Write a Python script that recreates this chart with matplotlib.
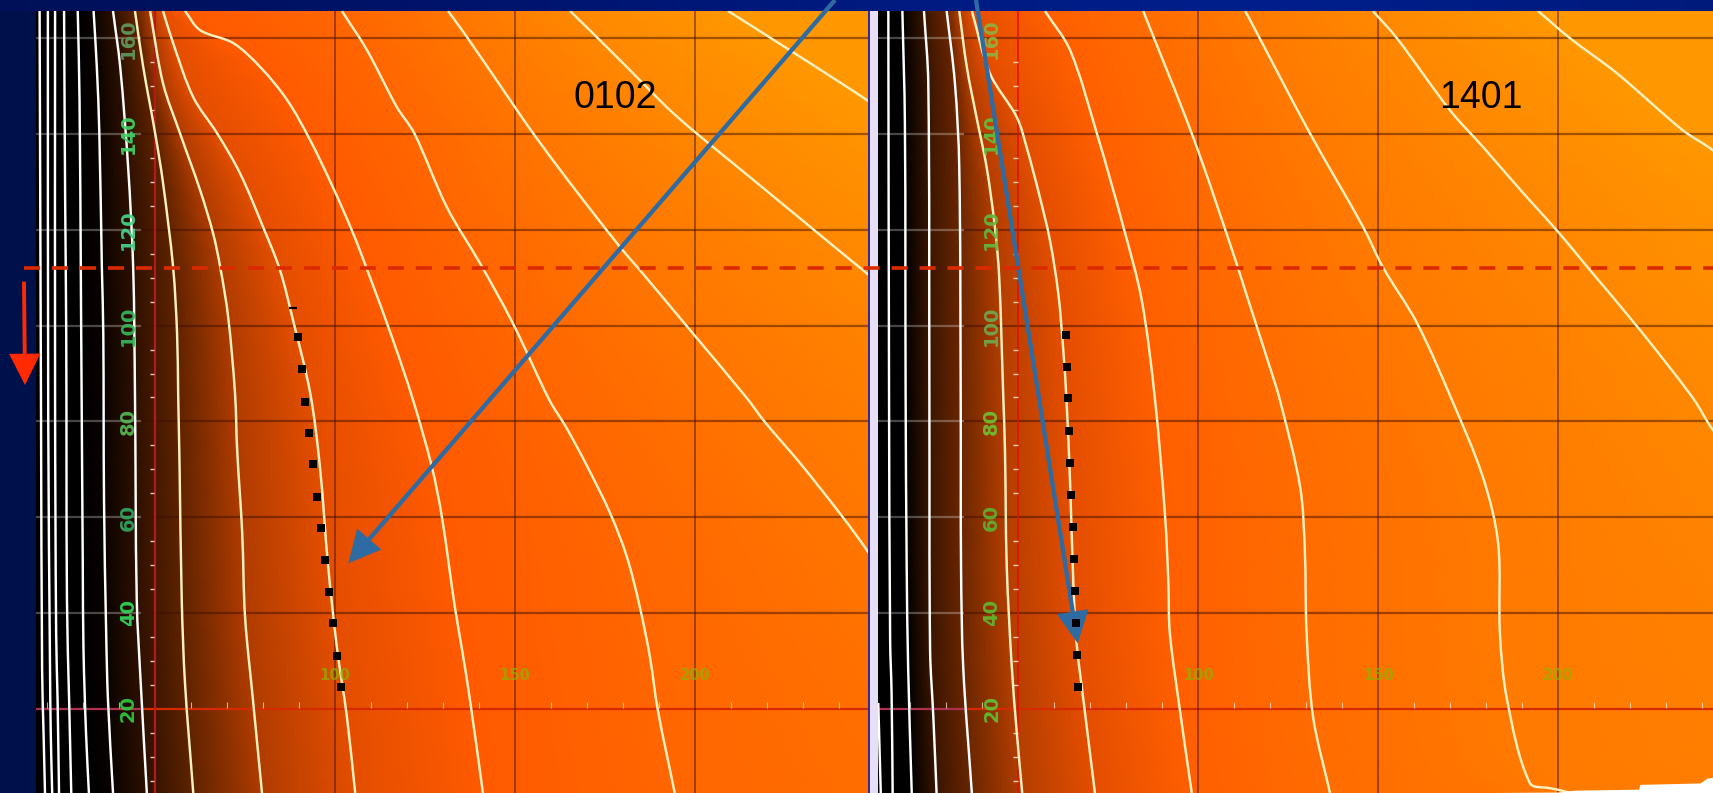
import numpy as np
import matplotlib
matplotlib.use("Agg")
import matplotlib.pyplot as plt
from matplotlib.colors import LinearSegmentedColormap
from matplotlib.patches import FancyArrowPatch, PathPatch
from matplotlib.path import Path

W, H = 1713, 793
TOP = 165.7
BOTTOM = 2.4

# Panel 0102: isolines as (x values, y values), left to right
p1_contours = [
    ([17.9, 18.3, 18.6, 19.0, 19.4], [165.7, 80.3, 28.1, 14.9, 2.4]),
    ([20.2, 20.3, 20.8, 21.0, 21.4], [165.7, 80.3, 28.1, 14.9, 2.4]),
    ([22.2, 22.2, 22.5, 22.9, 23.3], [165.7, 84.4, 35.8, 21.8, 2.4]),
    ([24.7, 25.0, 25.3, 25.5, 26.1, 26.7], [165.7, 126.2, 98.4, 42.7, 21.8, 2.4]),
    ([28.5, 29.0, 29.4, 29.9, 30.1, 30.8, 31.6], [165.7, 147.1, 105.3, 49.6, 32.3, 14.9, 2.4]),
    ([32.9, 33.8, 34.5, 35.2, 35.6, 35.8, 36.4, 36.9, 38.3],
     [165.7, 154.0, 140.2, 112.2, 98.4, 63.6, 35.8, 21.8, 2.4]),
    ([38.3, 40.3, 42.5, 43.9, 44.4, 44.9, 46.0, 47.7],
     [165.7, 154.0, 133.1, 112.2, 85.9, 42.7, 25.4, 2.4]),
    ([44.4, 46.7, 50.0, 52.2, 55.0, 56.1, 56.4, 56.8, 57.4, 58.3, 60.6],
     [165.7, 154.0, 140.2, 129.8, 112.2, 98.4, 85.9, 70.5, 42.7, 25.4, 2.4]),
    ([48.6, 52.2, 56.9, 62.5, 66.1, 68.1, 70.3, 72.2, 72.8, 74.2, 75.0, 77.2, 79.7],
     [165.7, 150.6, 140.2, 128.3, 119.3, 112.2, 101.8, 85.9, 74.0, 56.7, 39.1, 21.8, 2.4]),
    ([52.2, 55.0, 60.6, 67.2, 73.6, 80.0, 84.7, 88.3, 93.1, 95.8, 98.1, 100.6, 103.3, 105.6],
     [165.7, 159.0, 147.7, 140.2, 131.8, 120.6, 111.6, 101.2, 85.9, 70.5, 49.6, 32.3, 18.3, 2.4]),
    ([58.3, 62.5, 71.7, 79.2, 86.7, 93.1, 99.4, 105.0, 109.7, 116.1, 121.7, 126.9, 129.7, 133.3, 135.3, 137.5, 141.1],
     [165.7, 161.7, 159.0, 154.0, 147.1, 138.7, 128.9, 119.3, 110.1, 97.0, 84.4, 70.5, 60.0, 41.2, 32.3, 21.8, 2.4]),
    ([101.9, 108.9, 117.2, 122.0, 131.1, 140.3, 149.4, 159.6, 164.2, 169.6, 176.4, 181.1, 184.7, 187.5, 189.7, 194.4],
     [165.7, 157.5, 145.6, 140.2, 124.7, 113.0, 100.5, 84.4, 78.8, 71.3, 60.9, 51.7, 41.2, 30.8, 19.7, 2.4]),
    ([131.4, 136.9, 150.0, 155.0, 165.3, 179.2, 184.7, 199.4, 214.4, 219.4, 229.2, 241.1, 247.8, 256.9, 312.5],
     [165.7, 160.0, 145.6, 140.2, 129.8, 116.4, 111.6, 98.4, 84.9, 79.9, 71.3, 60.0, 53.1, 42.7, 2.4]),
    ([165.3, 173.6, 182.8, 192.2, 199.4, 210.6, 229.2, 247.8, 284.7, 395.8],
     [165.7, 159.6, 152.7, 145.6, 140.8, 133.9, 122.4, 110.9, 88.6, 2.4]),
    ([209.2, 226.4, 247.8, 284.7, 423.6], [165.7, 157.5, 147.1, 128.3, 2.4]),
]
p1_field_first = 4
p1_field_colors = ["#000000", "#000000", "#0a0300", "#2e1000", "#5f2300", "#b03c00", "#e44e00",
                   "#ff5a00", "#ff6600", "#ff7600", "#ff8800", "#ff9800", "#ffa000"]
p1_dots_x = [89.6, 90.8, 91.7, 92.9, 94.0, 95.1, 96.1, 97.2, 98.3, 99.4, 100.5, 101.6]
p1_dots_y = [97.6, 90.9, 84.1, 77.6, 71.0, 64.3, 57.7, 51.0, 44.4, 37.8, 31.1, 24.6]
p1_dash = (88.4, 103.6)

# Panel 1401
p2_contours = [
    ([11.1, 11.8], [21.2, 2.4]),
    ([13.9, 14.1, 14.4, 14.8, 15.1], [165.7, 84.4, 34.3, 23.3, 2.4]),
    ([17.8, 18.5, 18.7, 19.0, 19.4, 20.4], [165.7, 142.3, 85.9, 49.6, 28.7, 2.4]),
    ([23.8, 25.0, 25.3, 25.5, 26.4, 27.3], [165.7, 150.6, 85.9, 32.3, 18.3, 2.4]),
    ([30.1, 32.4, 33.6, 34.0, 34.1, 34.7, 37.1], [165.7, 150.6, 133.1, 85.9, 49.6, 28.7, 2.4]),
    ([33.6, 35.7, 38.4, 41.2, 43.5, 44.7, 45.8, 46.3, 46.8, 48.2, 49.6, 51.1],
     [165.7, 154.0, 143.5, 133.1, 120.6, 110.1, 85.9, 74.0, 49.6, 28.7, 14.9, 2.4]),
    ([37.1, 42.1, 49.6, 52.3, 56.0, 58.8, 61.1, 62.5, 63.4, 64.4, 65.3, 66.2, 68.1, 71.3],
     [165.7, 152.7, 143.5, 137.3, 126.8, 117.8, 106.8, 94.9, 84.4, 67.1, 46.2, 33.7, 21.8, 2.4]),
    ([57.4, 64.4, 71.8, 79.2, 84.3, 88.0, 90.8, 91.7, 92.1, 94.9, 98.2],
     [165.7, 157.5, 140.2, 120.6, 105.3, 84.4, 60.0, 46.2, 35.8, 19.7, 2.4]),
    ([84.7, 98.6, 109.7, 113.0, 119.9, 122.7, 128.3, 129.6, 130.1, 131.9, 136.6],
     [165.7, 139.3, 115.1, 107.4, 91.3, 84.4, 66.3, 53.1, 35.8, 18.3, 2.4]),
    ([113.0, 114.4, 131.0, 145.8, 151.3, 160.8, 170.5, 179.1, 183.3, 183.8, 185.8, 192.1, 197.7, 200.5, 203.3],
     [165.7, 163.8, 140.2, 120.6, 112.2, 100.5, 84.4, 68.3, 54.6, 35.8, 21.8, 4.5, 3.4, 3.0, 2.4]),
    ([148.5, 155.2, 169.9, 179.1, 191.3, 199.6, 208.8, 222.7, 237.4, 243.0, 267.1, 378.3],
     [165.7, 160.0, 145.0, 137.3, 126.8, 119.9, 111.6, 99.1, 84.9, 78.2, 55.2, 2.4]),
    ([194.4, 203.3, 216.3, 234.6, 243.0, 294.9, 406.0],
     [165.7, 160.0, 152.7, 140.8, 136.6, 105.3, 2.4]),
]
p2_field_first = 2
p2_field_colors = ["#000000", "#000000", "#3a1500", "#6a2600", "#b43e00", "#e44e00", "#ff5f00",
                   "#ff6c00", "#ff7a00", "#ff8800", "#ff9800", "#ffa000"]
p2_dots_x = [63.3, 63.5, 63.9, 64.2, 64.4, 64.7, 65.1, 65.4, 65.7, 66.0, 66.3, 66.6]
p2_dots_y = [98.0, 91.4, 84.8, 78.0, 71.3, 64.6, 57.9, 51.3, 44.6, 37.9, 31.2, 24.6]
p2_white_x = [181.6, 199.9, 204.6, 222.3, 222.7, 239.4, 241.3, 243.0]
p2_white_y = [2.5, 2.6, 3.0, 3.2, 4.2, 4.5, 5.5, 5.7]

y_ticks = [160, 140, 120, 100, 80, 60, 40, 20]
y_tick_colors = ["#5f9a5f", "#3fd468", "#45d488", "#35b85a", "#55b855", "#30a860", "#30d858", "#30c840"]
p2_y_tick_colors = ["#90b040", "#60c040", "#60b840", "#70a850", "#70c030", "#60b030", "#60b830", "#60c030"]
x_ticks = [100, 150, 200]
mesh_rows = [165.7, 160, 155, 150, 145, 140, 135, 130, 125, 120, 115, 110, 100, 90, 80, 70, 60, 50, 40, 30, 20, 10, 2.4]
band_colors = ["#001058", "#00136a", "#001a80", "#001f8c", "#001a7c"]

fig = plt.figure(figsize=(W / 100, H / 100), dpi=100, facecolor="#00104a")


def panel_axes(left_px, right_px, xlim, zorder, transparent=False):
    ax = fig.add_axes([left_px / W, 0, (right_px - left_px) / W, (H - 11) / H], zorder=zorder)
    ax.set_xlim(*xlim)
    ax.set_ylim(BOTTOM, TOP)
    ax.axis("off")
    if transparent:
        ax.patch.set_alpha(0)
    return ax


def draw_field(ax, contours, first, colors):
    rows = np.array(mesh_rows)
    cols = [np.interp(rows, cy[::-1], cx[::-1]) for cx, cy in contours[first:]]
    X = np.column_stack([np.full_like(rows, -60.0)] + cols + [np.full_like(rows, 600.0)])
    Y = np.tile(rows[:, None], (1, X.shape[1]))
    C = np.tile(np.linspace(0, 1, X.shape[1])[None, :], (rows.size, 1))
    cmap = LinearSegmentedColormap.from_list("field", list(zip(np.linspace(0, 1, len(colors)), colors)), N=1024)
    ax.pcolormesh(X, Y, C, shading="gouraud", cmap=cmap, vmin=0, vmax=1, zorder=1, rasterized=True)


def draw_grid(ax, x_left, x_split, x_right, axis_color, axis_lw):
    for yv in y_ticks:
        if yv == 20:
            ax.plot([x_left, x_split], [yv, yv], color="#b03050", lw=1.6, zorder=2, solid_capstyle="butt")
            ax.plot([x_split, x_right], [yv, yv], color="#d62a00", lw=1.6, zorder=2, solid_capstyle="butt")
        else:
            ax.plot([x_left, x_split], [yv, yv], color="white", alpha=0.28, lw=1.6, zorder=2, solid_capstyle="butt")
            ax.plot([x_split, x_right], [yv, yv], color="#401000", alpha=0.5, lw=1.6, zorder=2, solid_capstyle="butt")
    for xv in x_ticks:
        ax.axvline(xv, color="#401000", alpha=0.6, lw=1.1, zorder=2)
    ax.axvline(50, color=axis_color, lw=axis_lw, zorder=2)
    # minor ticks along the two red axes
    for yv in range(5, 165, 5):
        if yv % 20:
            ax.plot([48.6, 49.8], [yv, yv], color="#ffe8d8", lw=1.0, alpha=0.85, zorder=2, solid_capstyle="butt")
    for xv in range(20, 245, 10):
        if xv % 50:
            ax.plot([xv, xv], [20.2, 21.4], color="#ffe8d8", lw=0.8, alpha=0.7, zorder=2, solid_capstyle="butt")


def curved_path(cx, cy):
    # Bezier path through the read points, so isolines render without corners
    pts = np.column_stack([cx, cy])
    if len(pts) < 3:
        return Path(pts)
    scale = np.array([3.6, 4.79])
    seg = np.linalg.norm(np.diff(pts * scale, axis=0), axis=1)
    tan = np.zeros_like(pts)
    tan[1:-1] = (pts[2:] - pts[:-2]) / (seg[:-1] + seg[1:])[:, None]
    tan[0] = (pts[1] - pts[0]) / seg[0]
    tan[-1] = (pts[-1] - pts[-2]) / seg[-1]
    verts = [pts[0]]
    codes = [Path.MOVETO]
    for i in range(len(pts) - 1):
        verts += [pts[i] + tan[i] * seg[i] / 3, pts[i + 1] - tan[i + 1] * seg[i] / 3, pts[i + 1]]
        codes += [Path.CURVE4] * 3
    return Path(np.array(verts), codes)


def draw_contours(ax, contours, white_count):
    for i, (cx, cy) in enumerate(contours):
        col = "#ffffff" if i < white_count else "#fff0c0"
        ax.add_patch(PathPatch(curved_path(cx, cy), fill=False, edgecolor=col, lw=1.75, zorder=3))


def draw_labels(ax, x_pos, colors):
    for yv, col in zip(y_ticks, colors):
        ax.text(x_pos, yv, str(yv), rotation=90, color=col, fontsize=14, fontweight="bold",
                ha="center", va="center", zorder=4, alpha=0.92)
    for xv in x_ticks:
        ax.text(xv, 27.0, str(xv), color="#8ab400", fontsize=10.5, fontweight="bold",
                ha="center", va="center", zorder=4, alpha=0.7)


# background band along the top
bg = fig.add_axes([0, 0, 1, 1], zorder=0)
bg.axis("off")
band = LinearSegmentedColormap.from_list("band", band_colors)
bg.imshow(np.linspace(0, 1, 256)[None, :], extent=(0, W, 11, 0), cmap=band, aspect="auto")
bg.set_xlim(0, W)
bg.set_ylim(H, 0)

# left panel
ax1 = panel_axes(36, 868, (16.9, 248.1), 1)
draw_field(ax1, p1_contours, p1_field_first, p1_field_colors)
draw_grid(ax1, 16.9, 46, 248.1, "#b81818", 1.6)
draw_contours(ax1, p1_contours, 7)
draw_labels(ax1, 42.5, y_tick_colors)

# right panel
ax2 = panel_axes(868, W, (8.25, 243.0), 1)
draw_field(ax2, p2_contours, p2_field_first, p2_field_colors)
draw_grid(ax2, 11.0, 35, 243.0, "#e01000", 1.1)
draw_contours(ax2, p2_contours, 5)
draw_labels(ax2, 42.6, p2_y_tick_colors)
ax2.axvspan(8.25, 11.0, color="#e6dff6", zorder=5, lw=0)
ax2.axvspan(8.25, 8.7, color="#3a2a8a", zorder=6, lw=0)
ax2.fill_between(p2_white_x, BOTTOM, p2_white_y, color="white", lw=0, zorder=6)

# annotations drawn over both panels
ov = fig.add_axes([0, 0, 1, 1], zorder=2)
ov.set_xlim(0, W)
ov.set_ylim(H, 0)
ov.axis("off")
ov.patch.set_alpha(0)
ov.plot([24, W], [267.7, 267.7], color="#dc2a00", lw=2.6, linestyle=(0, (4.45, 3.3)), dash_capstyle="butt")
ov.add_patch(FancyArrowPatch((24, 281.7), (25, 385), arrowstyle="-|>,head_length=18,head_width=9",
                             mutation_scale=1, color="#ff2a00", lw=2.8, shrinkA=0, shrinkB=0,
                             joinstyle="miter", capstyle="butt"))
for start, tip in [((835, 0), (348.3, 563.3)), ((976, 0), (1077.7, 643.3))]:
    ov.add_patch(FancyArrowPatch(start, tip, arrowstyle="-|>,head_length=18,head_width=9",
                                 mutation_scale=1, color="#2f6ba3", lw=3.1, shrinkA=0, shrinkB=0,
                                 joinstyle="miter", capstyle="butt"))
ov.text(615, 98, "0102", family="Liberation Sans", fontsize=27, color="black", ha="center", va="center")
ov.text(1481, 98, "1401", family="Liberation Sans", fontsize=27, color="black", ha="center", va="center")

# square markers sit above the arrows
m1 = panel_axes(36, 868, (16.9, 248.1), 3, True)
m1.plot(p1_dots_x, p1_dots_y, "s", color="black", ms=6.0, mew=0)
m1.plot(*p1_dash, marker="_", color="black", ms=5.8, mew=1.6)
m2 = panel_axes(868, W, (8.25, 243.0), 3, True)
m2.plot(p2_dots_x, p2_dots_y, "s", color="black", ms=6.0, mew=0)

fig.savefig("out.png", dpi=100, facecolor=fig.get_facecolor())
